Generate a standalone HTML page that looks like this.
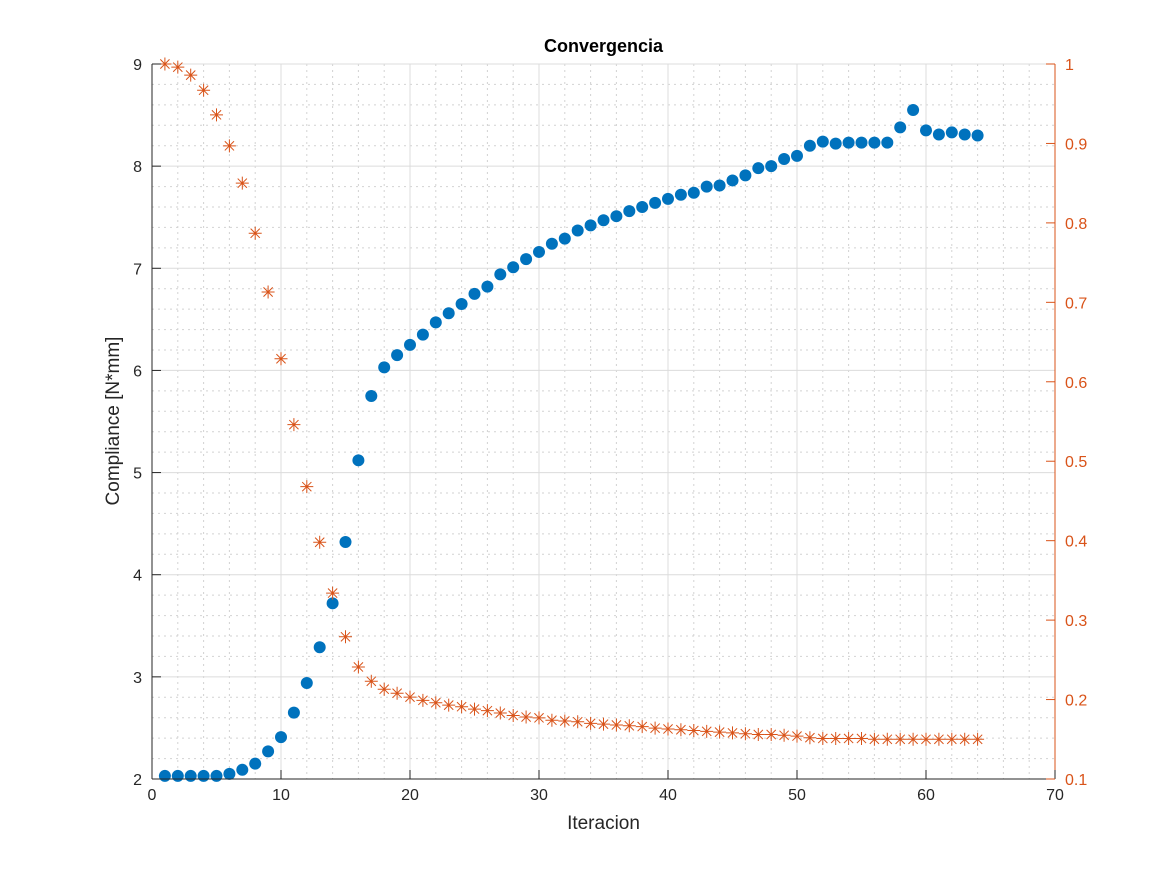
<!DOCTYPE html>
<html><head><meta charset="utf-8"><style>
body{margin:0;background:#fff}
svg{display:block;font-family:"Liberation Sans",sans-serif}
</style></head><body>
<svg id="chart" width="1167" height="875" viewBox="0 0 1167 875" xmlns="http://www.w3.org/2000/svg">
<rect width="1167" height="875" fill="#fff"/>
<g id="grid"></g><g id="marks"></g><g id="axes"></g>
</svg>
<script>
const iterations = Array.from({length:64},(_,i)=>i+1);
const compliance = [2.03,2.03,2.03,2.03,2.03,2.05,2.09,2.15,2.27,2.41,2.65,2.94,3.29,3.72,4.32,5.12,5.75,6.03,6.15,6.25,6.35,6.47,6.56,6.65,6.75,6.82,6.94,7.01,7.09,7.16,7.24,7.29,7.37,7.42,7.47,7.51,7.56,7.60,7.64,7.68,7.72,7.74,7.80,7.81,7.86,7.91,7.98,8.00,8.07,8.10,8.20,8.24,8.22,8.23,8.23,8.23,8.23,8.38,8.55,8.35,8.31,8.33,8.31,8.30];
const volume = [1.0,0.996,0.986,0.967,0.936,0.897,0.850,0.787,0.713,0.629,0.546,0.468,0.398,0.334,0.279,0.241,0.223,0.213,0.208,0.203,0.199,0.196,0.193,0.191,0.188,0.186,0.183,0.180,0.178,0.177,0.174,0.173,0.172,0.170,0.169,0.168,0.167,0.166,0.164,0.163,0.162,0.161,0.160,0.159,0.158,0.157,0.156,0.156,0.155,0.154,0.152,0.151,0.151,0.151,0.151,0.150,0.150,0.150,0.150,0.150,0.150,0.150,0.150,0.150];
const xTicks = [0,10,20,30,40,50,60,70];
const yLeftTicks = [2,3,4,5,6,7,8,9];
const yRightTicks = [0.1,0.2,0.3,0.4,0.5,0.6,0.7,0.8,0.9,1];

const L=152,R=1055,T=64,B=779;
const xs=v=>L+(v-0)/70*(R-L);
const yl=v=>B-(v-2)/7*(B-T);
const yr=v=>B-(v-0.1)/0.9*(B-T);
const NS='http://www.w3.org/2000/svg';
function mk(parent,tag,attrs,text){const e=document.createElementNS(NS,tag);for(const k in attrs)e.setAttribute(k,attrs[k]);if(text!==undefined)e.textContent=text;document.getElementById(parent).appendChild(e);return e;}
const BLUE='#0072BD',ORANGE='#D95319';

for(let v=0;v<=70;v+=2){if(v%10===0)continue;const e=mk('grid','line',{x1:xs(v),x2:xs(v),y1:T,y2:B,stroke:'#d2d2d2','stroke-dasharray':'2,4'});

}
for(let v=2;v<=9.001;v+=0.2){if(Math.abs(v-Math.round(v))<1e-6)continue;const e=mk('grid','line',{x1:L,x2:R,y1:yl(v),y2:yl(v),stroke:'#d2d2d2','stroke-dasharray':'2,4'});

}
xTicks.forEach(v=>{const e=mk('grid','line',{x1:xs(v),x2:xs(v),y1:T,y2:B,stroke:'#dcdcdc'});

});
yLeftTicks.forEach(v=>{const e=mk('grid','line',{x1:L,x2:R,y1:yl(v),y2:yl(v),stroke:'#dcdcdc'});

});

let a=mk('axes','line',{x1:L,x2:R,y1:B,y2:B,stroke:'#262626'});


a=mk('axes','line',{x1:L,x2:L,y1:T,y2:B,stroke:'#262626'});


a=mk('axes','line',{x1:R,x2:R,y1:T,y2:B,stroke:ORANGE});


xTicks.forEach(v=>{mk('axes','line',{x1:xs(v),x2:xs(v),y1:B,y2:B-9,stroke:'#262626'});
const t=mk('axes','text',{x:xs(v),y:B+21,'text-anchor':'middle','font-size':16,fill:'#262626'},v);

});
yLeftTicks.forEach(v=>{mk('axes','line',{x1:L,x2:L+9,y1:yl(v),y2:yl(v),stroke:'#262626'});
const t=mk('axes','text',{x:L-10,y:yl(v)+6,'text-anchor':'end','font-size':16,fill:'#262626'},v);

});
yRightTicks.forEach(v=>{mk('axes','line',{x1:R,x2:R-9,y1:yr(v),y2:yr(v),stroke:ORANGE});
const t=mk('axes','text',{x:R+10,y:yr(v)+6,'text-anchor':'start','font-size':16,fill:ORANGE},String(v));

});
let t=mk('axes','text',{x:(L+R)/2,y:52,'text-anchor':'middle','font-size':18,'font-weight':'bold',fill:'#000'},'Convergencia');


t=mk('axes','text',{x:(L+R)/2,y:829,'text-anchor':'middle','font-size':19,fill:'#262626'},'Iteracion');


t=mk('axes','text',{x:0,y:0,'text-anchor':'middle','font-size':19,fill:'#262626',transform:'translate(119,421) rotate(-90)'},'Compliance [N*mm]');



iterations.forEach((it,i)=>{
const c=mk('marks','circle',{cx:xs(it),cy:yl(compliance[i]),r:6,fill:BLUE});


const x=xs(it),y=yr(volume[i]),s=6.5,d=4.6;
const g=mk('marks','path',{d:`M${x-s},${y}H${x+s}M${x},${y-s}V${y+s}M${x-d},${y-d}L${x+d},${y+d}M${x-d},${y+d}L${x+d},${y-d}`,stroke:ORANGE,'stroke-width':1,fill:'none'});


});
</script>
</body></html>
